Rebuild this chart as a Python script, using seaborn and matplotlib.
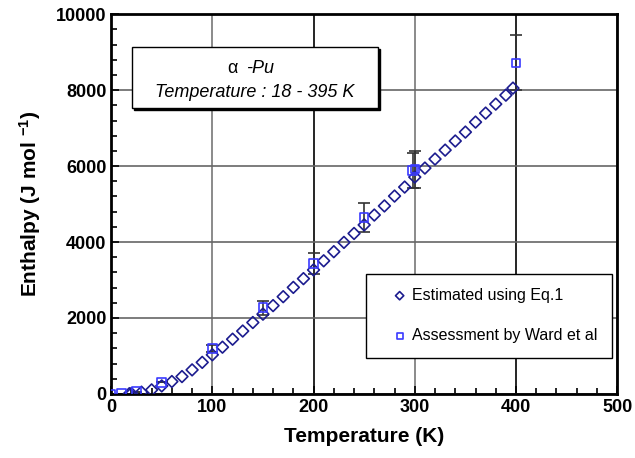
import matplotlib
matplotlib.use("Agg")
import matplotlib.pyplot as plt
import matplotlib.patches as patches
from matplotlib.ticker import MultipleLocator
import seaborn as sns
import pandas as pd

# estimated enthalpy (Eq.1)
est_T = [18, 20, 30, 40, 50, 60, 70, 80, 90, 100, 110, 120, 130, 140, 150,
         160, 170, 180, 190, 200, 210, 220, 230, 240, 250, 260, 270, 280,
         290, 300, 310, 320, 330, 340, 350, 360, 370, 380, 390, 397]
est_H = [5, 10, 45, 105, 210, 325, 456, 632, 830, 1030, 1230, 1440, 1655,
         1880, 2100, 2325, 2560, 2805, 3035, 3265, 3505, 3745, 3990, 4225,
         4450, 4710, 4950, 5210, 5447, 5710, 5947, 6185, 6420, 6660, 6895,
         7158, 7395, 7632, 7868, 8053]

# assessment by Ward et al
ward_T = [0, 10, 25, 50, 100, 150, 200, 250, 298, 300, 400]
ward_H = [0, 5, 60, 300, 1200, 2270, 3430, 4640, 5880, 5920, 8720]
ward_err = [0, 0, 0, 0, 100, 180, 270, 375, 460, 490, 725]

est = pd.DataFrame({"T": est_T, "H": est_H})
ward = pd.DataFrame({"T": ward_T, "H": ward_H})

sns.set_theme(style="ticks")
plt.rcParams["font.family"] = ["Liberation Sans", "DejaVu Sans"]
plt.rcParams["mathtext.fontset"] = "custom"
plt.rcParams["mathtext.rm"] = "Liberation Sans"
plt.rcParams["mathtext.it"] = "Liberation Sans:italic"
plt.rcParams["mathtext.bf"] = "Liberation Sans:bold"
plt.rcParams["text.color"] = "black"
plt.rcParams["axes.labelcolor"] = "black"
plt.rcParams["xtick.color"] = "black"
plt.rcParams["ytick.color"] = "black"

fig, ax = plt.subplots(figsize=(6.35, 4.58), dpi=100)
fig.subplots_adjust(left=0.175, right=0.972, top=0.969, bottom=0.140)

navy = "#1c1c8f"
blue = "#3a3aff"

ax.errorbar(ward_T, ward_H, yerr=ward_err, fmt="none", ecolor="#333333",
            elinewidth=1.2, capsize=4, capthick=1.2, zorder=2)
sns.scatterplot(data=est, x="T", y="H", marker="D", s=36, facecolor="none",
                edgecolor=navy, linewidth=1.2, label="Estimated using Eq.1",
                ax=ax, zorder=3)
sns.scatterplot(data=ward, x="T", y="H", marker="s", s=38, facecolor="none",
                edgecolor=blue, linewidth=1.2, label="Assessment by Ward et al",
                ax=ax, zorder=4)

ax.set_xlim(0, 500)
ax.set_ylim(0, 10000)
ax.xaxis.set_major_locator(MultipleLocator(100))
ax.xaxis.set_minor_locator(MultipleLocator(20))
ax.yaxis.set_major_locator(MultipleLocator(2000))
ax.yaxis.set_minor_locator(MultipleLocator(400))
ax.tick_params(which="both", direction="in", width=1.2, colors="black")
ax.tick_params(which="major", length=6, labelsize=13)
ax.tick_params(which="minor", length=4)
for lab in ax.get_xticklabels() + ax.get_yticklabels():
    lab.set_fontweight("bold")

ax.grid(True, which="major", color="#666666", linewidth=1.2)
ax.set_axisbelow(True)
# vertical grid lines alternate black / gray like the original
for i, gl in enumerate(ax.xaxis.get_gridlines()):
    gl.set_color("black" if i % 2 == 1 else "#777777")
for sp in ax.spines.values():
    sp.set_linewidth(2)
    sp.set_color("black")
    sp.set_visible(True)

ax.set_xlabel("Temperature (K)", fontsize=15, fontweight="bold", labelpad=8)
ax.set_ylabel(r"Enthalpy (J mol $^{\mathbf{-1}}$)", fontsize=15,
              fontweight="bold", labelpad=9)

leg = ax.legend(loc="lower right", bbox_to_anchor=(0.99, 0.095),
                fontsize=11.5, frameon=True, fancybox=False, framealpha=1,
                edgecolor="black", labelspacing=1.6, handletextpad=-0.4,
                handlelength=2.4, borderpad=0.9, markerscale=0.7,
                borderaxespad=0)
leg.get_frame().set_linewidth(1.0)

# title box with shadow
x0, x1, y0, y1 = 0.041, 0.528, 0.753, 0.914
ax.add_patch(patches.Rectangle((x0 + 0.004, y0 - 0.006), x1 - x0, y1 - y0,
                               transform=ax.transAxes, facecolor="black",
                               edgecolor="black", zorder=5))
ax.add_patch(patches.Rectangle((x0, y0), x1 - x0, y1 - y0,
                               transform=ax.transAxes, facecolor="white",
                               edgecolor="black", linewidth=1.0, zorder=6))
ax.text(0.250, 0.858, "α", transform=ax.transAxes, ha="right", va="center",
        fontsize=13, zorder=7)
ax.text(0.266, 0.858, "-Pu", transform=ax.transAxes, ha="left", va="center",
        fontsize=13, style="italic", zorder=7)
ax.text(0.284, 0.795, "Temperature : 18 - 395 K", transform=ax.transAxes,
        ha="center", va="center", fontsize=13, style="italic", zorder=7)

plt.savefig("out.png", dpi=100)
